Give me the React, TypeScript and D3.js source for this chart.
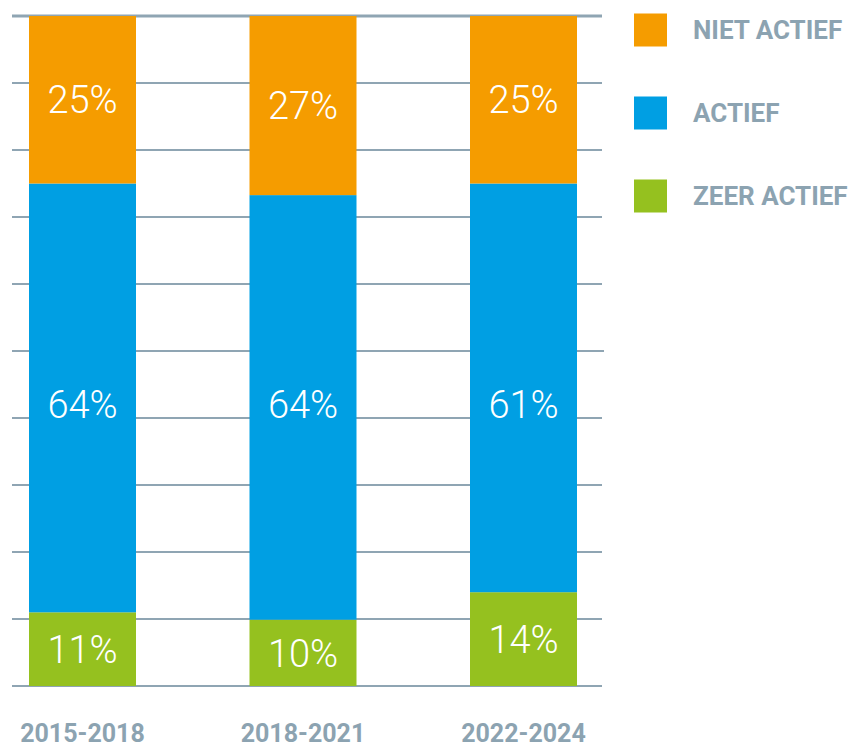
import React from "react";
import * as d3 from "d3";

const categories = ["2015-2018", "2018-2021", "2022-2024"];
const seriesKeys = ["zeer", "actief", "niet"];
const seriesNames = ["ZEER ACTIEF", "ACTIEF", "NIET ACTIEF"];
const zeerActief = [11, 10, 14];
const actief = [64, 64, 61];
const nietActief = [25, 27, 25];
const gridTicks = [0, 10, 20, 30, 40, 50, 60, 70, 80, 90, 100];
const legendOrder = ["niet", "actief", "zeer"];

const colors: Record<string, string> = {
  niet: "#f59c00",
  actief: "#009fe3",
  zeer: "#95c11f",
};

const W = 856;
const H = 749;

export default function App() {
  const rows = categories.map((c, i) => ({
    cat: c,
    zeer: zeerActief[i],
    actief: actief[i],
    niet: nietActief[i],
  }));
  const stack = d3
    .stack<any>()
    .keys(seriesKeys)
    .offset(d3.stackOffsetExpand)(rows);
  const y = d3.scaleLinear().domain([0, 1]).range([686, 16]);
  const yGrid = d3.scaleLinear().domain([0, 100]).range([686, 16]);
  const x = d3.scalePoint<string>().domain(categories).range([82.5, 523.5]);
  const bw = 107;
  const grid = "#8fa5b3";
  const textCol = "#8ca3b1";
  const legendY = d3.scalePoint<string>().domain(legendOrder).range([30, 196]);

  return (
    <svg
      width={W}
      height={H}
      style={{ position: "absolute", left: 0, top: 0 }}
      viewBox={`0 0 ${W} ${H}`}
    >
      <rect width={W} height={H} fill="#fff" />
      {gridTicks.map((t) => (
        <line
          key={t}
          x1={12}
          x2={t === 50 ? 604 : 602}
          y1={yGrid(t)}
          y2={yGrid(t)}
          stroke={grid}
          strokeWidth={t === 100 ? 3 : 2}
        />
      ))}
      {stack.map((s) => (
        <g key={s.key}>
          {s.map((d, i) => {
            const cx = x(categories[i])!;
            const y0 = y(d[0]);
            const y1 = y(d[1]);
            const val = (d.data as any)[s.key];
            const ly = s.key === "actief" ? y(0.42) : (y0 + y1) / 2;
            return (
              <g key={i}>
                <rect
                  x={cx - bw / 2}
                  y={y1}
                  width={bw}
                  height={y0 - y1}
                  fill={colors[s.key]}
                />
                <text
                  x={cx}
                  y={ly}
                  dy="0.36em"
                  textAnchor="middle"
                  fill="#fff"
                  fontFamily="Roboto"
                  fontWeight={300}
                  fontSize={38}
                >
                  {val}%
                </text>
              </g>
            );
          })}
        </g>
      ))}
      {categories.map((c) => (
        <text
          key={c}
          x={x(c)!}
          y={742}
          textAnchor="middle"
          fill={textCol}
          fontFamily="Roboto"
          fontWeight={700}
          fontSize={25}
        >
          {c}
        </text>
      ))}
      {legendOrder.map((k) => {
        const cy = legendY(k)!;
        const name = seriesNames[seriesKeys.indexOf(k)];
        return (
          <g key={k}>
            <rect x={634} y={cy - 16.5} width={33} height={33} fill={colors[k]} />
            <text
              x={693}
              y={cy}
              dy="0.36em"
              fill={textCol}
              fontFamily="Roboto"
              fontWeight={700}
              fontSize={26}
            >
              {name}
            </text>
          </g>
        );
      })}
    </svg>
  );
}
